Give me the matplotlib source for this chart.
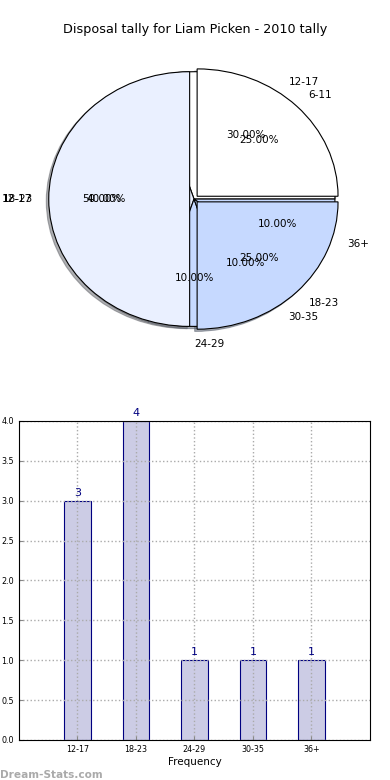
import numpy as np
import matplotlib
matplotlib.use("Agg")
import matplotlib.pyplot as plt

# ---------------- DATA ----------------
TITLE = "Disposal tally for Liam Picken - 2010 tally"

# pie drawn underneath (same as the bar chart)
groups = ["12-17", "18-23", "24-29", "30-35", "36+"]
counts = [3, 4, 1, 1, 1]

# pie drawn on top
groups_top = ["6-11", "12-17", "18-23"]
counts_top = [1, 2, 1]

PIE_COLORS = ["#FFFFFF", "#EAF0FF", "#C6D9FF", "#C6D9FF", "#C6D9FF"]
BAR_FACE = "#CCCCE5"
BAR_EDGE = "#000080"
# --------------------------------------

RADIUS = 0.965
SHADOW = {"ox": -0.012, "oy": -0.012, "shade": 0.6}


def main():
    fig = plt.figure(figsize=(3.9, 7.8), dpi=100)

    # -------- pie --------
    ax1 = fig.add_axes([0.0295, 0.5333, 0.936, 0.423])
    ax1.pie(counts, labels=groups, colors=PIE_COLORS, autopct="%.2f%%",
            shadow=SHADOW, radius=RADIUS,
            labeldistance=1.1 / RADIUS, pctdistance=0.6 / RADIUS,
            textprops={"fontsize": 7.5},
            wedgeprops={"linewidth": 0.8, "edgecolor": "black"})
    ax1.pie(counts_top, labels=groups_top, colors=PIE_COLORS[:3],
            autopct="%.2f%%", shadow=SHADOW, radius=RADIUS,
            explode=[0.03, 0.03, 0.03],
            labeldistance=1.08 / RADIUS, pctdistance=0.6 / RADIUS,
            textprops={"fontsize": 7.5},
            wedgeprops={"linewidth": 0.8, "edgecolor": "black"})
    ax1.set_aspect("auto")
    ax1.set_xlim(-1.25, 1.25)
    ax1.set_ylim(-1.25, 1.25)
    fig.text(0.5, 0.962, TITLE, ha="center", va="center", fontsize=9.2)

    # -------- bars --------
    ax2 = fig.add_axes([0.0487, 0.0513, 0.9, 0.409])
    x = np.arange(len(groups))
    bars = ax2.bar(x, counts, width=0.45, color=BAR_FACE,
                   edgecolor=BAR_EDGE, linewidth=0.8, zorder=1)
    for b, v in zip(bars, counts):
        ax2.text(b.get_x() + b.get_width() / 2, v + 0.04, str(v),
                 ha="center", va="bottom", color=BAR_EDGE, fontsize=8)
    ax2.set_xlim(-1, len(groups))
    ax2.set_ylim(0, 4)
    ax2.set_xticks(x)
    ax2.set_xticklabels(groups)
    ax2.set_yticks(np.arange(0, 4.01, 0.5))
    ax2.tick_params(labelsize=5.8, direction="in", length=3, color="#888888")
    ax2.grid(True, linestyle=":", color="#AAAAAA", linewidth=1, zorder=1.5)
    ax2.set_axisbelow(False)
    for sp in ax2.spines.values():
        sp.set_zorder(3)
    ax2.set_xlabel("Frequency", fontsize=7.5, labelpad=2)

    fig.text(0.0, 0.0, "Dream-Stats.com", color="#AAAAAA", fontsize=7.6,
             fontweight="bold", ha="left", va="bottom")

    fig.savefig("out.png", dpi=100)
    plt.close(fig)


if __name__ == "__main__":
    main()
